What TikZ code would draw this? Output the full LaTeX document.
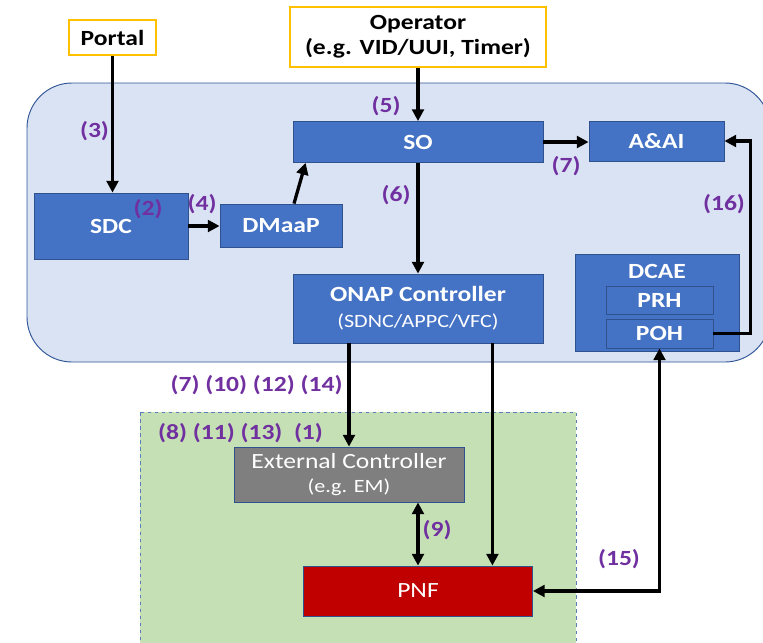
\documentclass[tikz,border=0pt]{standalone}
\usepackage{fontspec}
\setmainfont{Carlito}[FakeStretch=1.18]
\usetikzlibrary{arrows.meta,calc}
\definecolor{onapfill}{HTML}{DAE3F3}
\definecolor{onapline}{HTML}{2F5597}
\definecolor{boxblue}{HTML}{4472C4}
\definecolor{boxline}{HTML}{2F528F}
\definecolor{envfill}{HTML}{C5E0B4}
\definecolor{envline}{HTML}{5B7DB8}
\definecolor{extgray}{HTML}{7F7F7F}
\definecolor{pnfred}{HTML}{C00000}
\definecolor{userline}{HTML}{FFC000}
\definecolor{stepnum}{HTML}{7030A0}
\begin{document}
\begin{tikzpicture}
[
    x=0.03cm, y=-0.03cm,
    font=\fontsize{18.5}{21}\selectfont\bfseries,
    region/.style={draw=onapline, line width=0.8pt, fill=onapfill, rounded corners=1.35cm},
    envbox/.style={draw=envline, line width=0.8pt, dashed, fill=envfill},
    userbox/.style={draw=userline, line width=1pt, fill=white, align=center, inner sep=0pt},
    compbox/.style={draw=boxline, line width=0.7pt, fill=boxblue, text=white, align=center, inner sep=0pt},
    extbox/.style={draw=boxline, line width=0.7pt, fill=extgray, text=white, align=center, inner sep=0pt},
    pnfbox/.style={draw=boxline, line width=0.7pt, fill=pnfred, text=white, inner sep=0pt},
    stepnr/.style={text=stepnum, inner sep=0pt},
    flow/.style={line width=2.8pt, -{Triangle[length=10pt,width=10pt]}},
    biflow/.style={line width=2.8pt, {Triangle[length=10pt,width=10pt]}-{Triangle[length=10pt,width=10pt]}},
]
\clip (0,0) rectangle (763,642);
% areas
\draw[region] (27,83) rectangle (770,362);
\draw[envbox] (140,412) rectangle (576,660);
% users
\node[userbox, minimum width=2.61cm, minimum height=1.05cm] (portal) at (112.5,37.5) {Portal};
\node[userbox, minimum width=7.68cm, minimum height=1.8cm] (operator) at (418,37) {Operator\\(e.g. VID/UUI, Timer)};
% onap components
\node[compbox, minimum width=7.5cm, minimum height=1.23cm] (so) at (418,142) {SO};
\node[compbox, minimum width=4.05cm, minimum height=1.2cm] (aai) at (656.5,141) {A\&AI};
\node[compbox, minimum width=4.62cm, minimum height=1.98cm] (sdc) at (111,226) {SDC};
\node[compbox, minimum width=3.66cm, minimum height=1.29cm] (dmaap) at (281,225.5) {DMaaP};
\node[compbox, minimum width=7.5cm, minimum height=2.07cm] (onap) at (418,308.5)
    {ONAP Controller\\[1pt]{\fontsize{16}{19}\selectfont\mdseries (SDNC/APPC/VFC)}};
\node[compbox, minimum width=4.92cm, minimum height=2.91cm] (dcae) at (657,302.5) {};
\node[text=white] (dcaetitle) at (657,271) {DCAE};
\node[compbox, minimum width=3.21cm, minimum height=0.84cm] (prh) at (659.5,300) {PRH};
\node[compbox, minimum width=3.21cm, minimum height=0.87cm] (poh) at (659.5,333.5) {POH};
% network side
\node[extbox, minimum width=6.9cm, minimum height=1.65cm, font=\fontsize{18.5}{20.5}\selectfont] (ext) at (349,474.5)
    {External Controller\\{\fontsize{16}{19}\selectfont (e.g. EM)}};
\node[pnfbox, minimum width=6.87cm, minimum height=1.5cm, font=\fontsize{18.5}{21}\selectfont] (pnf) at (418,591) {PNF};
\coordinate (onaptap) at ($(onap.south east)+(-51,0)$);
% connectors
\draw[flow] (portal.south) -- (portal.south |- sdc.north);
\draw[flow] (operator.south) -- (so.north);
\draw[flow] (sdc.east) -- (sdc.east -| dmaap.west);
\draw[flow] ($(dmaap.north)+(13,0)$) -- ($(so.south west)+(13,0)$);
\draw[flow] (so.east) -- (so.east -| aai.west);
\draw[flow] (so.south) -- (onap.north);
\draw[flow] (poh.east) -- ++(37,0) |- (aai.east);
\draw[flow] (ext.north |- onap.south) -- (ext.north);
\draw[flow] (onaptap) -- (onaptap |- pnf.north);
\draw[biflow] (pnf.north |- ext.south) -- (pnf.north);
\draw[biflow] (pnf.east) -| (poh.south);
% step numbers
\node[stepnr] (s3) at (94.5,131) {(3)};
\node[stepnr] (s2) at (148,209) {(2)};
\node[stepnr] (s4) at (202,204) {(4)};
\node[stepnr] (s5) at (386,106) {(5)};
\node[stepnr] (s6) at (396,195) {(6)};
\node[stepnr] (s7) at (566,166) {(7)};
\node[stepnr] (s16) at (724,204) {(16)};
\node[stepnr] (s7b) at (256.5,385) {(7) (10) (12) (14)};
\node[stepnr] (s8) at (240.5,433) {(8) (11) (13) \ (1)};
\node[stepnr] (s9) at (437,530) {(9)};
\node[stepnr] (s15) at (619,559) {(15)};
\end{tikzpicture}
\end{document}
